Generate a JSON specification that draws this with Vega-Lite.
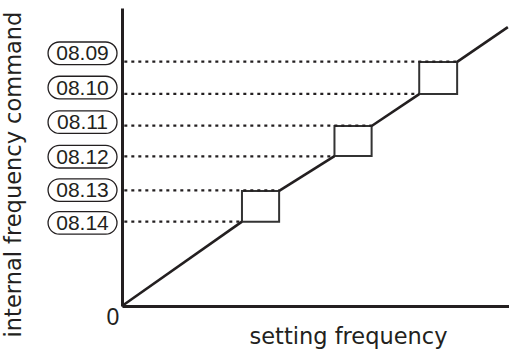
{
  "$schema": "https://vega.github.io/schema/vega-lite/v6.json",
  "width": 387,
  "height": 298,
  "autosize": {"type": "none"},
  "padding": {"left": 122, "top": 8, "right": 0, "bottom": 43},
  "background": "white",
  "config": {"view": {"stroke": null}},
  "datasets": {
    "curve": [
      {"seg": "A", "f": 0, "cmd": 0},
      {"seg": "A", "f": 31.0, "cmd": 28.3},
      {"seg": "B", "f": 40.6, "cmd": 38.6},
      {"seg": "B", "f": 54.9, "cmd": 50.3},
      {"seg": "C", "f": 64.5, "cmd": 60.4},
      {"seg": "C", "f": 76.8, "cmd": 71.1},
      {"seg": "D", "f": 86.6, "cmd": 81.9},
      {"seg": "D", "f": 99.7, "cmd": 93.6}
    ],
    "bands": [
      {"f1": 31.0, "f2": 40.6, "c1": 28.3, "c2": 38.6},
      {"f1": 54.9, "f2": 64.5, "c1": 50.3, "c2": 60.4},
      {"f1": 76.8, "f2": 86.6, "c1": 71.1, "c2": 81.9}
    ],
    "refs": [
      {"param": "08.09", "cmd": 82.0, "fstart": 0.6, "fend": 86.6, "lab": 84.8},
      {"param": "08.10", "cmd": 71.2, "fstart": 0.6, "fend": 76.8, "lab": 73.3},
      {"param": "08.11", "cmd": 60.5, "fstart": 0.6, "fend": 64.5, "lab": 61.7},
      {"param": "08.12", "cmd": 50.2, "fstart": 0.6, "fend": 54.9, "lab": 50.1},
      {"param": "08.13", "cmd": 38.8, "fstart": 0.6, "fend": 40.6, "lab": 38.9},
      {"param": "08.14", "cmd": 28.3, "fstart": 0.6, "fend": 31.0, "lab": 27.9}
    ]
  },
  "layer": [
    {
      "data": {"name": "bands"},
      "mark": {"type": "rect", "fill": "white", "stroke": "#333333", "strokeWidth": 2},
      "encoding": {
        "x": {"field": "f1", "type": "quantitative",
          "scale": {"domain": [0, 100], "nice": false, "zero": false},
          "axis": {"title": "setting frequency", "labels": false, "ticks": false, "grid": false,
            "domainColor": "#231f20", "domainWidth": 3,
            "titleFont": "DejaVu Sans", "titleFontSize": 22.5, "titleFontWeight": "normal",
            "titleColor": "#231f20", "titleX": 226, "titleY": 37, "titleBaseline": "alphabetic",
            "titleAlign": "center"}},
        "x2": {"field": "f2"},
        "y": {"field": "c1", "type": "quantitative",
          "scale": {"domain": [0, 100], "nice": false, "zero": false},
          "axis": {"title": "internal frequency command", "labels": false, "ticks": false, "grid": false,
            "domainColor": "#231f20", "domainWidth": 3,
            "titleFont": "DejaVu Sans", "titleFontSize": 22.5, "titleFontWeight": "normal",
            "titleColor": "#231f20", "titleAngle": -90, "titleX": -102, "titleY": 166,
            "titleBaseline": "alphabetic", "titleAlign": "center"}},
        "y2": {"field": "c2"}
      }
    },
    {
      "data": {"name": "refs"},
      "mark": {"type": "rule", "color": "#231f20", "strokeWidth": 2.2, "strokeDash": [3, 4]},
      "encoding": {
        "x": {"field": "fstart", "type": "quantitative"},
        "x2": {"field": "fend"},
        "y": {"field": "cmd", "type": "quantitative"}
      }
    },
    {
      "data": {"name": "curve"},
      "mark": {"type": "line", "color": "#231f20", "strokeWidth": 2.6},
      "encoding": {
        "x": {"field": "f", "type": "quantitative"},
        "y": {"field": "cmd", "type": "quantitative"},
        "detail": {"field": "seg"}
      }
    },
    {
      "data": {"name": "refs"},
      "mark": {"type": "point", "filled": false, "fill": "white", "fillOpacity": 1, "stroke": "#231f20", "strokeWidth": 1.3, "opacity": 1,
        "shape": "M -2.05 -1 L 2.05 -1 A 1 1 0 0 1 2.05 1 L -2.05 1 A 1 1 0 0 1 -2.05 -1 Z",
        "size": 511},
      "encoding": {
        "x": {"datum": -10.2},
        "y": {"field": "lab", "type": "quantitative"}
      }
    },
    {
      "data": {"name": "refs"},
      "mark": {"type": "text", "font": "Liberation Sans", "fontSize": 21, "color": "#231f20", "align": "center", "baseline": "middle", "dy": 1},
      "encoding": {
        "x": {"datum": -10.2},
        "y": {"field": "lab", "type": "quantitative"},
        "text": {"field": "param"}
      }
    },
    {
      "data": {"values": [{"f": 0, "cmd": 0, "t": "0"}]},
      "mark": {"type": "text", "font": "Liberation Sans", "fontSize": 23, "color": "#231f20", "align": "center", "baseline": "middle", "dx": -9, "dy": 12},
      "encoding": {
        "x": {"field": "f", "type": "quantitative"},
        "y": {"field": "cmd", "type": "quantitative"},
        "text": {"field": "t"}
      }
    }
  ]
}
